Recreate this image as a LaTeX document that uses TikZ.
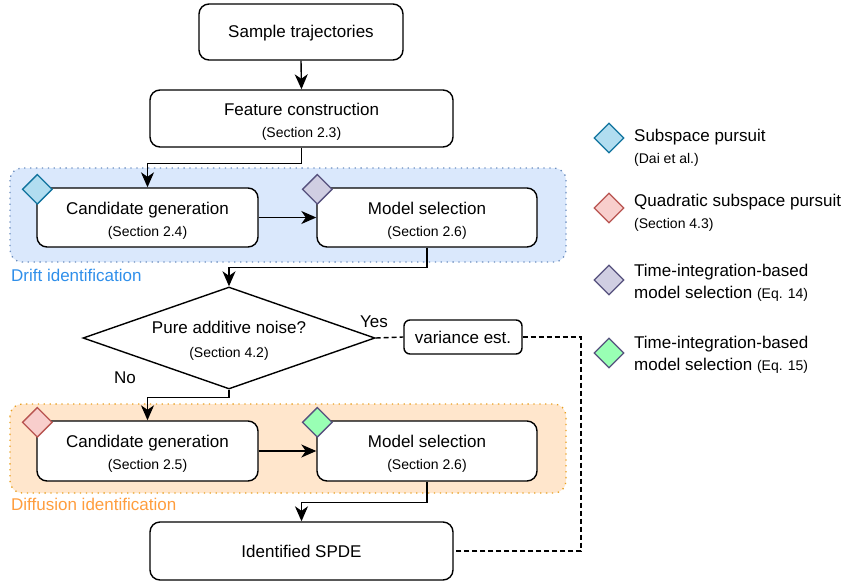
\documentclass[tikz,border=0pt]{standalone}
\usepackage{fontspec}
\setmainfont{Liberation Sans}
\usetikzlibrary{shapes.geometric,arrows.meta}

\newcommand{\mainf}{\fontsize{17}{22}\selectfont}
\newcommand{\smallf}{\fontsize{14}{22}\selectfont}
\newcommand{\decf}{\fontsize{17}{24}\selectfont}
\newcommand{\decsmall}{\fontsize{14}{24}\selectfont}

\definecolor{driftfill}{HTML}{DAE8FC}
\definecolor{driftline}{HTML}{6C8EBF}
\definecolor{drifttext}{HTML}{2F8FEA}
\definecolor{difffill}{HTML}{FFE6CC}
\definecolor{diffline}{HTML}{E8A020}
\definecolor{difftext}{HTML}{FF9D3D}
\definecolor{spfill}{HTML}{B1DDF0}
\definecolor{spline}{HTML}{10739E}
\definecolor{qspfill}{HTML}{F8CECC}
\definecolor{qspline}{HTML}{B85450}
\definecolor{tifill}{HTML}{D0CEE2}
\definecolor{tiline}{HTML}{56517E}
\definecolor{tgfill}{HTML}{99FFB4}

\tikzset{
  box/.style={draw, line width=1.4pt, rounded corners=10pt, fill=white,
    align=center, inner sep=0pt, font=\mainf},
  oneline/.style={box, text height=12pt, text depth=1pt},
  twoline/.style={box, text height=37pt, text depth=0pt},
  arr/.style={line width=1.4pt, -{Stealth[length=15pt,width=13pt,inset=4.5pt]}},
  dashlink/.style={line width=1.4pt, dash pattern=on 5pt off 3pt},
  stage/.style={line width=1.3pt, dash pattern=on 1.3pt off 4.6pt, rounded corners=12pt},
  tag/.style={diamond, aspect=1, draw, line width=1.3pt, inner sep=0pt,
    minimum width=30pt, minimum height=30pt},
  legendtext/.style={anchor=west, align=left, inner sep=0pt, font=\mainf,
    text height=34pt, text depth=0pt},
  plain/.style={inner sep=0pt, font=\mainf},
}

\begin{document}
\begin{tikzpicture}[x=1pt, y=-1pt]
  \useasboundingbox (0,0) rectangle (852,582);

  % stage backgrounds
  \draw[stage, fill=driftfill, draw=driftline] (10,168) rectangle (566,262);
  \draw[stage, fill=difffill, draw=diffline] (10,404) rectangle (566,493);
  \node[plain, anchor=west, text=drifttext] (driftlbl) at (11,275) {Drift identification};
  \node[plain, anchor=west, text=difftext] (difflbl) at (11,504) {Diffusion identification};

  % main flow
  \node[oneline, minimum width=204pt, minimum height=56pt] (sample) at (301,32) {Sample trajectories};
  \node[twoline, minimum width=303pt, minimum height=57pt] (feature) at (301.5,118.5)
    {Feature construction\\\smallf (Section 2.3)};
  \node[twoline, minimum width=221pt, minimum height=59pt] (cg1) at (147.5,217.5)
    {Candidate generation\\\smallf (Section 2.4)};
  \node[twoline, minimum width=220pt, minimum height=59pt] (ms1) at (427,217.5)
    {Model selection\\\smallf (Section 2.6)};
  \node[diamond, draw, line width=1.4pt, fill=white, aspect=2.86, inner sep=0pt,
        minimum width=292pt, minimum height=102pt, align=center, font=\decf,
        text height=38pt, text depth=0pt] (dec) at (229,338)
    {Pure additive noise?\\\decsmall (Section 4.2)};
  \node[oneline, rounded corners=6pt, text depth=0pt, minimum width=118pt, minimum height=34pt] (var) at (463,337)
    {variance est.};
  \node[twoline, minimum width=221pt, minimum height=60pt] (cg2) at (147.5,451)
    {Candidate generation\\\smallf (Section 2.5)};
  \node[twoline, minimum width=220pt, minimum height=60pt] (ms2) at (427,451)
    {Model selection\\\smallf (Section 2.6)};
  \node[oneline, text depth=0pt, minimum width=303pt, minimum height=58pt] (spde) at (301.5,551) {Identified SPDE};

  \node[plain] (yes) at (374,322) {Yes};
  \node[plain] (no) at (125,378) {No};

  % method tags on the boxes
  \node[tag, fill=spfill, draw=spline] (tag1) at ([shift={(1,2)}]cg1.north west) {};
  \node[tag, fill=tifill, draw=tiline] (tag2) at ([shift={(1,2)}]ms1.north west) {};
  \node[tag, fill=qspfill, draw=qspline] (tag3) at ([shift={(1,2)}]cg2.north west) {};
  \node[tag, fill=tgfill, draw=tiline] (tag4) at ([shift={(1,2)}]ms2.north west) {};

  % connectors
  \draw[arr] (sample.south) -- (feature.north);
  \draw[arr] (feature.south) -- ++(0,16) -| (cg1.north);
  \draw[arr] (cg1.east) -- (ms1.west);
  \draw[arr] (ms1.south) -- ++(0,20) -| (dec.north);
  \draw[arr] (dec.south) -- ++(0,8) -| (cg2.north);
  \draw[arr] (cg2.east) -- (ms2.west);
  \draw[arr] (ms2.south) -- ++(0,21) -| (spde.north);

  \coordinate (dashx) at (581,0);
  \draw[dashlink] (dec.east) -- (var.west);
  \draw[dashlink] (var.east) -| (spde.east -| dashx) -- (spde.east);

  % legend
  \node[tag, fill=spfill, draw=spline] (leg1) at (609,138) {};
  \node[legendtext] (legt1) at (634,146) {Subspace pursuit\\\smallf (Dai et al.)};
  \node[tag, fill=qspfill, draw=qspline] (leg2) at (609,208) {};
  \node[legendtext] (legt2) at (634,211) {Quadratic subspace pursuit\\\smallf (Section 4.3)};
  \node[tag, fill=tifill, draw=tiline] (leg3) at (609,280) {};
  \node[legendtext] (legt3) at (634,281) {Time-integration-based\\model selection {\smallf (Eq. 14)}};
  \node[tag, fill=tgfill, draw=tiline] (leg4) at (609,353) {};
  \node[legendtext] (legt4) at (634,353) {Time-integration-based\\model selection {\smallf (Eq. 15)}};
\end{tikzpicture}
\end{document}
